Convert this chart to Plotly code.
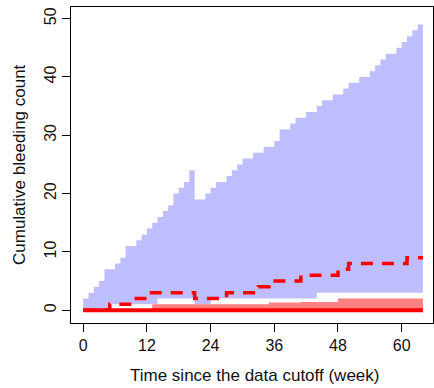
import plotly.graph_objects as go

weeks = list(range(0, 65))

# upper bound of the blue prediction band
upper_blue = [2, 3, 4, 5, 7, 7, 8, 9, 11, 11, 12, 13, 14, 15, 16, 17, 18, 20, 21, 22,
              24, 19, 19, 20, 21, 22, 22, 23, 24, 25, 26, 26, 27, 27, 28, 28, 29, 31, 31, 32,
              33, 33, 34, 34, 35, 36, 36, 37, 37, 38, 39, 39, 40, 40, 41, 42, 43, 44, 44, 45,
              46, 47, 48, 49, 49]
# lower bound of the blue prediction band
lower_blue = [0, 0, 0, 0, 0, 1, 1, 1, 1, 1, 1, 1, 1, 1, 2, 2, 2, 2, 2, 2,
              2, 1, 1, 1, 2, 2, 2, 2, 2, 2, 2, 2, 2, 2, 2, 2, 2, 2, 2, 2,
              2, 2, 2, 2, 3, 3, 3, 3, 3, 3, 3, 3, 3, 3, 3, 3, 3, 3, 3, 3,
              3, 3, 3, 3, 3]
# median (dashed)
median = [0, 0, 0, 0, 0, 1, 1, 1, 1, 1, 2, 2, 3, 3, 3, 3, 3, 3, 3, 3,
          3, 2, 2, 2, 2, 2, 2, 3, 3, 3, 3, 3, 3, 4, 4, 5, 5, 5, 5, 5,
          5, 6, 6, 6, 6, 6, 6, 6, 7, 7, 8, 8, 8, 8, 8, 8, 8, 8, 8, 8,
          8, 9, 9, 9, 9]
# upper bound of the red band
upper_red = [0, 0, 0, 0, 0, 0, 0, 0, 0, 0, 0, 0, 0, 1, 1, 1, 1, 1, 1, 1,
             1, 1, 1, 1, 1, 1, 1, 1, 1, 1, 1, 1, 1, 1, 1, 1.3, 1.3, 1.3, 1.3, 1.3,
             1.3, 1.4, 1.4, 1.4, 1.4, 1.4, 1.4, 1.4, 2, 2, 2, 2, 2, 2, 2, 2, 2, 2, 2, 2,
             2, 2, 2, 2, 2]
lower_red = [0] * len(weeks)

x_ticks = [0, 12, 24, 36, 48, 60]
y_ticks = [0, 10, 20, 30, 40, 50]

BLUE = "#BEBEFF"
SALMON = "#FF8080"
RED = "#FF0000"
FONT = "Liberation Sans, Arial, sans-serif"

fig = go.Figure()
fig.add_trace(go.Scatter(x=weeks, y=lower_blue, mode="lines", line=dict(width=0, shape="hv"),
                         hoverinfo="skip"))
fig.add_trace(go.Scatter(x=weeks, y=upper_blue, mode="lines", line=dict(width=0, shape="hv"),
                         fill="tonexty", fillcolor=BLUE, hoverinfo="skip"))
fig.add_trace(go.Scatter(x=weeks, y=lower_red, mode="lines", line=dict(width=0, shape="hv"),
                         hoverinfo="skip"))
fig.add_trace(go.Scatter(x=weeks, y=upper_red, mode="lines", line=dict(width=0, shape="hv"),
                         fill="tonexty", fillcolor=SALMON, hoverinfo="skip"))
fig.add_trace(go.Scatter(x=weeks, y=median, mode="lines",
                         line=dict(color=RED, width=3.5, shape="hv", dash="12px,9px")))
fig.add_trace(go.Scatter(x=weeks, y=lower_red, mode="lines",
                         line=dict(color=RED, width=4, shape="hv")))

axis_common = dict(ticks="outside", ticklen=8, tickwidth=1, tickcolor="black",
                   showline=True, linecolor="black", linewidth=1, mirror=True,
                   showgrid=False, zeroline=False,
                   tickfont=dict(family=FONT, size=16, color="#111"))

fig.update_layout(
    width=434, height=388,
    margin=dict(l=71, r=1, t=7, b=65),
    plot_bgcolor="white", paper_bgcolor="white",
    showlegend=False,
    xaxis=dict(range=[-2.3, 65.9], tickvals=x_ticks, **axis_common),
    yaxis=dict(range=[-2.2, 52.0], tickvals=y_ticks, tickangle=-90, **axis_common),
    annotations=[
        dict(text="Time since the data cutoff (week)", xref="paper", yref="paper",
             x=(254 - 71) / 362, y=(323 - 375) / 316, xanchor="center", yanchor="middle",
             showarrow=False, font=dict(family=FONT, size=17, color="#111")),
        dict(text="Cumulative bleeding count", xref="paper", yref="paper",
             x=(19 - 71) / 362, y=(323 - 165) / 316, xanchor="center", yanchor="middle",
             textangle=-90, showarrow=False, font=dict(family=FONT, size=17, color="#111")),
    ],
)

fig.write_html("out.html")
